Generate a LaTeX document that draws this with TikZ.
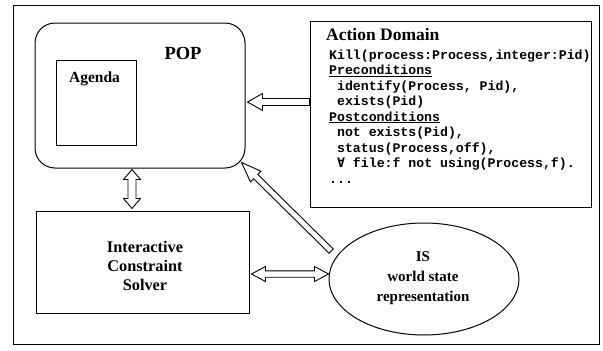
\documentclass[tikz,border=0pt]{standalone}
\usepackage{fontspec}
\setmainfont{Liberation Serif}
\newfontfamily\admono{Liberation Mono}
\newfontfamily\symfont{DejaVu Sans Mono}
\usetikzlibrary{calc,shapes.geometric}

% single hollow block arrow: #1 tail, #2 tip, #3 half shaft, #4 half head, #5 head length
\newcommand\blockarrowsingle[5]{%
  \coordinate (hbA) at ($(#2)!#5!(#1)$);
  \draw[arrowline] ($(#1)!#3!90:(#2)$) -- ($(hbA)!#3!90:(#2)$) -- ($(hbA)!#4!90:(#2)$) -- (#2)
    -- ($(hbA)!#4!-90:(#2)$) -- ($(hbA)!#3!-90:(#2)$) -- ($(#1)!#3!-90:(#2)$) -- cycle;
}
% double-headed hollow block arrow
\newcommand\blockarrowdouble[5]{%
  \coordinate (hbA) at ($(#2)!#5!(#1)$);
  \coordinate (hbB) at ($(#1)!#5!(#2)$);
  \draw[arrowline] (#1) -- ($(hbB)!#4!90:(#2)$) -- ($(hbB)!#3!90:(#2)$) -- ($(hbA)!#3!90:(#2)$)
    -- ($(hbA)!#4!90:(#2)$) -- (#2) -- ($(hbA)!#4!-90:(#2)$) -- ($(hbA)!#3!-90:(#2)$)
    -- ($(hbB)!#3!-90:(#2)$) -- ($(hbB)!#4!-90:(#2)$) -- cycle;
}

\begin{document}
\begin{tikzpicture}[x=1pt,y=-1pt,
  box/.style={draw, line width=1pt, inner sep=0pt},
  arrowline/.style={draw, line width=0.9pt, fill=white, line join=miter},
  lbl/.style={font=\bfseries\fontsize{15.5}{19}\selectfont, align=center, inner sep=0pt},
  monol/.style={font=\admono\bfseries\fontsize{13.2}{15.5}\selectfont, anchor=base west, inner sep=0pt}]
\useasboundingbox (0,0) rectangle (603,351);
\draw[line width=1pt] (13,5) rectangle (599,344);

% boxes
\node[box, rounded corners=20pt, minimum width=210pt, minimum height=145pt] (pop) at (140,95.5) {};
\node[box, minimum width=80pt, minimum height=85pt] (agenda) at (96,102.5) {};
\node[box, minimum width=213pt, minimum height=102pt] (solver) at (142.5,262) {};
\node[box, minimum width=281pt, minimum height=186pt] (ad) at (450.5,114) {};
\node[box, ellipse, minimum width=190pt, minimum height=112pt] (is) at (424,279) {};

% labels
\node[lbl, font=\bfseries\fontsize{18.5}{20}\selectfont] (poplbl) at (183,53) {POP};
\node[lbl] (agendalbl) at (94.5,79) {Agenda};
\node[lbl, font=\bfseries\fontsize{16.3}{19}\selectfont] (solverlbl) at (145,266) {Interactive\\Constraint\\Solver};
\node[lbl, font=\bfseries\fontsize{15}{20}\selectfont] (islbl) at (423,278) {IS\\world state\\representation};
\node[font=\bfseries\fontsize{17.5}{20}\selectfont, anchor=base west, inner sep=0pt] (adtitle) at (326,40) {Action Domain};

\node[monol] (l1) at (329,59) {Kill(process:Process,integer:Pid)};
\node[monol] (l2) at (329,74.5) {\underline{Preconditions}};
\node[monol] (l3) at (329,90) {\ identify(Process, Pid),};
\node[monol] (l4) at (329,105.5) {\ exists(Pid)};
\node[monol] (l5) at (329,121) {\underline{Postconditions}};
\node[monol] (l6) at (329,136.5) {\ not exists(Pid),};
\node[monol] (l7) at (329,152) {\ status(Process,off),};
\node[monol] (l8) at (329,167.5) {\ {\symfont ∀} file:f not using(Process,f).};
\node[monol] (l9) at (329,183) {...};

% connector end points
\coordinate (y102) at (0,102);
\coordinate (y274) at (0,274);
\coordinate (x132) at (132,0);
\coordinate (adtail) at (ad.west |- y102);
\coordinate (poptip) at ($(pop.east |- y102)+(2,0)$);
\coordinate (popbot) at ($(pop.south -| x132)+(0,1)$);
\coordinate (soltop) at ($(solver.north -| x132)+(0,-2)$);
\coordinate (popcorner) at ($(pop.south east)+(-4,-6)$);
\coordinate (istail) at ($(is.163)+(-8,-2)$);
\coordinate (solright) at ($(solver.east |- y274)+(2,0)$);
\coordinate (isleft) at (is.west |- y274);

% arrows
\blockarrowsingle{adtail}{poptip}{3.5pt}{8.5pt}{15pt}
\blockarrowdouble{popbot}{soltop}{4pt}{8.5pt}{10pt}
\blockarrowsingle{istail}{popcorner}{3pt}{7.5pt}{20pt}
\blockarrowdouble{solright}{isleft}{3.2pt}{7.5pt}{14pt}
\end{tikzpicture}
\end{document}
